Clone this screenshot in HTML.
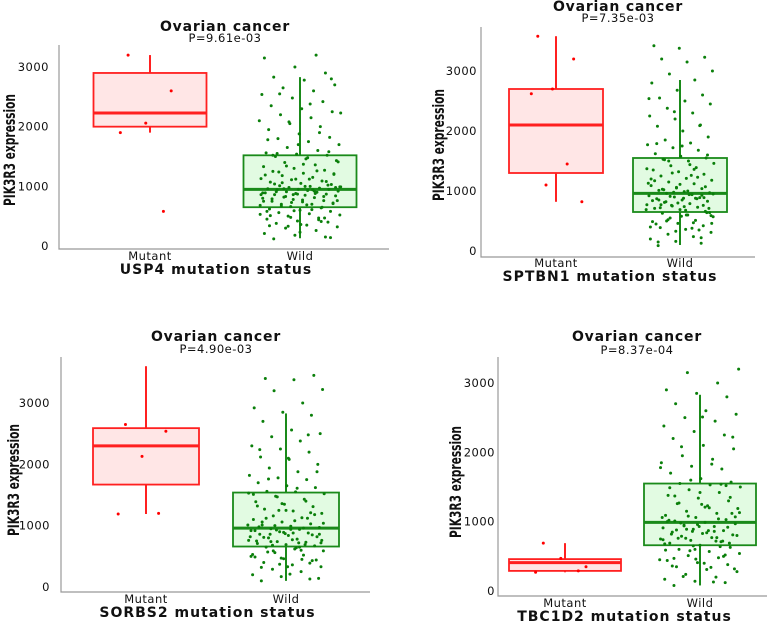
<!DOCTYPE html>
<html><head><meta charset="utf-8">
<style>
html,body{margin:0;padding:0;background:#fff;}
svg{display:block;font-family:"DejaVu Sans","Liberation Sans",sans-serif;}
</style></head>
<body>
<svg id="chart" width="777" height="622" viewBox="0 0 777 622" xmlns="http://www.w3.org/2000/svg"></svg>
<script>
// ---- data ----
const categories = ["Mutant", "Wild"];
const genes = ["USP4", "SPTBN1", "SORBS2", "TBC1D2"];
const pValues = ["P=9.61e-03", "P=7.35e-03", "P=4.90e-03", "P=8.37e-04"];
const yTicks = [0, 1000, 2000, 3000];
// box stats per panel: [whiskerLow, q1, median, q3, whiskerHigh]
const mutantBox = [[1900,2000,2230,2900,3200],[820,1300,2100,2700,3580],[1190,1670,2300,2590,3600],[270,290,410,460,690]];
const wildBox = [[130,650,950,1520,2830],[100,650,960,1550,2850],[100,660,960,1540,2830],[80,660,990,1550,2830]];
const mutantPts1 = [3200,2600,2060,1900,580];
const mutantPts2 = [3580,3200,2700,2620,1450,1100,820];
const mutantPts3 = [2650,2540,2130,1190,1200];
const mutantPts4 = [690,350,470,270,290];
const wildPts1 = [120,150,180,210,260,300,320,350,380,400,420,450,470,500,520,540,560,580,600,620,640,660,680,700,700,720,740,750,760,780,800,810,820,840,850,860,870,880,890,900,910,920,930,940,950,950,960,970,980,990,1000,1010,1030,1050,1070,1090,1110,1130,1150,1180,1200,1220,1250,1270,1300,1330,1360,1400,1430,1460,1500,1520,1540,1560,1600,1650,1700,1750,1800,1820,1880,1950,2000,2050,2100,2150,2200,2250,2300,2350,2420,2480,2540,2600,2650,2700,2780,2830,2900,3000,3150,3200,830,760,690,910,1020,870,580,440,330,990,1120,1240,
 140,230,340,410,480,530,610,670,710,770,790,830,860,890,920,960,980,1000,1040,1080,1120,1190,1260,1340,1410,1480,1550,1580,1700,1780,1900,2080,2230,2380,2550,2800,360,510,650,730,860,940,1060,1210,1370,1520,470,590,750,880];
const wildPts2 = [90,130,160,200,240,280,310,360,390,420,460,490,510,550,570,600,630,660,690,710,730,750,770,790,810,830,850,870,890,900,920,940,960,970,990,1010,1040,1060,1090,1120,1150,1180,1210,1250,1280,1320,1350,1390,1420,1460,1500,1530,1550,1580,1620,1680,1720,1770,1800,1850,1900,2000,2080,2100,2200,2250,2300,2380,2450,2500,2550,2600,2680,2800,2850,2950,3000,3150,3200,3230,3380,3420,870,760,690,940,1020,640,580,450,350,980,1130,1260,820,710,880,
 150,220,330,400,470,520,590,680,720,760,800,840,880,910,950,1000,1030,1070,1110,1170,1230,1300,1370,1440,1520,1600,1750,1790,2090,2320,2540,380,500,640,740,850,930,1050,1200,1360,1500,460,600,770,890];
const wildPts3 = [100,130,170,200,250,290,330,360,400,430,460,490,520,560,590,620,650,670,690,710,730,740,760,780,800,820,840,860,880,900,920,940,950,970,990,1010,1030,1060,1100,1130,1160,1200,1240,1270,1310,1350,1390,1430,1480,1520,1550,1560,1620,1650,1700,1750,1780,1820,1880,1940,2000,2080,2120,2200,2250,2300,2380,2450,2500,2560,2700,2800,2850,2920,3000,3200,3220,3380,3400,3450,870,750,690,930,1010,640,570,440,330,980,1120,1250,820,720,860,
 140,210,320,390,470,530,600,680,720,770,810,850,890,920,960,1000,1040,1080,1120,1180,1250,1320,1400,1470,1530,1610,1760,1880,2100,2240,2480,370,500,650,740,860,940,1060,1210,1360,1510,450,590,760,880];
const wildPts4 = [80,120,140,170,200,240,280,310,350,380,410,440,480,510,540,570,600,630,660,690,710,730,750,770,790,810,830,850,870,890,910,930,950,970,990,1010,1030,1060,1090,1120,1150,1190,1230,1260,1300,1340,1380,1420,1460,1500,1530,1550,1570,1620,1700,1760,1800,1850,1900,1950,2050,2100,2200,2250,2300,2380,2450,2500,2550,2600,2700,2800,2850,2900,3000,3150,3200,870,760,690,930,1020,640,580,450,340,980,1120,1250,820,720,860,1060,
 130,210,320,400,470,520,600,680,720,760,800,840,880,920,960,1000,1040,1080,1130,1200,1270,1350,1420,1490,1540,1600,1780,1830,2080,2220,2510,360,500,650,740,860,940,1070,1210,1370,1520,460,590,770,890];
const mutantPts = [mutantPts1, mutantPts2, mutantPts3, mutantPts4];
const wildPts = [wildPts1, wildPts2, wildPts3, wildPts4];

// ---- layout (geometry only) ----
const panels = [
  {ax:59, top:45, bot:249, right:389, y0:246, y3000:67, mc:150, wc:300, bw:113, tx:225, ty:31, py:42, cy:260, xy:274, ytx:15, yty:150, lab:49},
  {ax:481, top:27, bot:257, right:755, y0:251, y3000:71, mc:556, wc:680, bw:94, tx:618, ty:11, py:22, cy:267, xy:281, ytx:444, yty:145, lab:477},
  {ax:61, top:357, bot:592, right:370, y0:587, y3000:403, mc:146, wc:286, bw:106, tx:216, ty:341, py:353, cy:603, xy:617, ytx:19, yty:480, lab:50},
  {ax:498, top:357, bot:596, right:767, y0:591, y3000:383, mc:565, wc:700, bw:112, tx:637, ty:341, py:354, cy:607, xy:621, ytx:461, yty:482, lab:495}
];
const NS = "http://www.w3.org/2000/svg";
const svg = document.getElementById("chart");
function mk(tag, attrs, parent){
  const e = document.createElementNS(NS, tag);
  for (const k in attrs) e.setAttribute(k, attrs[k]);
  (parent||svg).appendChild(e);
  return e;
}
function txt(parent, x, y, s, size, weight, anchor, name, ls){
  const t = mk("text", {x:x, y:y, "font-size":size, "font-weight":weight, "text-anchor":anchor||"middle", fill:"#111", "letter-spacing":ls||0}, parent);
  
  
  t.textContent = s;
  return t;
}
function drawBox(g, P, yS, cx, stats, stroke, fill, name){
  const bg = mk("g", {}, g);
  
  
  const [lo,q1,md,q3,hi] = stats;
  const x0 = cx - P.bw/2;
  mk("line", {x1:cx, x2:cx, y1:yS(hi), y2:yS(q3), stroke:stroke, "stroke-width":2}, bg);
  mk("line", {x1:cx, x2:cx, y1:yS(q1), y2:yS(lo), stroke:stroke, "stroke-width":2}, bg);
  mk("rect", {x:x0, y:yS(q3), width:P.bw, height:yS(q1)-yS(q3), fill:fill, stroke:stroke, "stroke-width":1.8}, bg);
  mk("line", {x1:x0, x2:x0+P.bw, y1:yS(md), y2:yS(md), stroke:stroke, "stroke-width":3}, bg);
}
function drawPts(g, yS, cx, vals, spread, color, name){
  const pg = mk("g", {}, g);
  
  
  vals.forEach((v,i)=>{
    const j = (((i*61+17)%97)/96 - 0.5) * spread;
    const c = mk("circle", {cx:cx+j, cy:yS(v), r:1.5, fill:color}, pg);
    
    
  });
}
panels.forEach((P, k)=>{
  const g = mk("g", {});
  
  
  const yS = v => P.y0 - v * (P.y0 - P.y3000) / 3000;
  txt(g, P.tx, P.ty, "Ovarian cancer", 14, "bold", "middle", "chart-title", 0.8);
  txt(g, P.tx, P.py, pValues[k], 11.5, "normal", "middle", "p-value", 0.5);
  const ax = mk("path", {d:`M${P.ax},${P.top} V${P.bot} H${P.right}`, fill:"none", stroke:"#999", "stroke-width":1.2}, g);
  
  
  yTicks.forEach(t=>{
    txt(g, P.lab, yS(t)+4, String(t), 11.5, "normal", "end", "y-tick-label", 0.5);
  });
  txt(g, P.mc, P.cy, categories[0], 11.5, "normal", "middle", "x-tick-label", 0.5);
  txt(g, P.wc, P.cy, categories[1], 11.5, "normal", "middle", "x-tick-label", 0.5);
  txt(g, (P.ax+P.right)/2 - 8, P.xy, genes[k] + " mutation status", 14, "bold", "middle", "x-axis-title", 1);
  const yt = txt(g, 0, 0, "PIK3R3 expression", 16, "bold", "middle", "y-axis-title");
  yt.setAttribute("transform", `translate(${P.ytx},${P.yty}) rotate(-90)`);
  yt.setAttribute("textLength", "112");
  yt.setAttribute("lengthAdjust", "spacingAndGlyphs");
  drawBox(g, P, yS, P.mc, mutantBox[k], "#ff2020", "#ffe6e6", "mutant-box");
  drawBox(g, P, yS, P.wc, wildBox[k], "#1a8a1a", "#e2fbe2", "wild-box");
  drawPts(g, yS, P.mc, mutantPts[k], P.bw*0.6, "#ff0000", "mutant-points");
  drawPts(g, yS, P.wc, wildPts[k], P.bw*0.72, "#0a7f0a", "wild-points");
});
</script>
</body></html>
